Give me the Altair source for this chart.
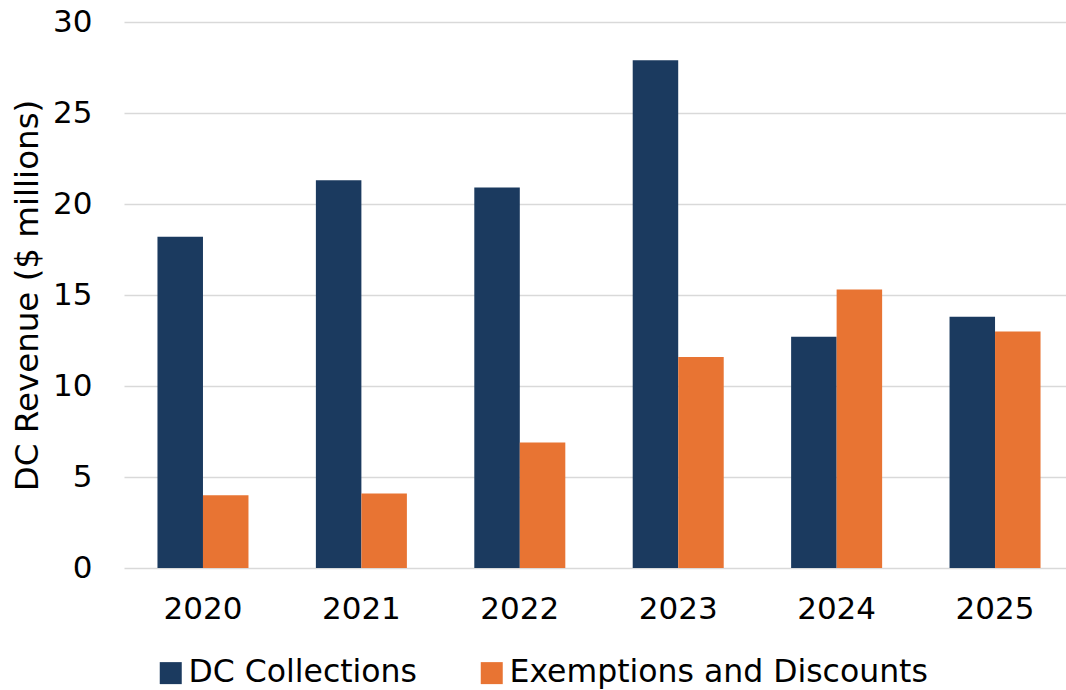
import altair as alt
import pandas as pd

years = ["2020", "2021", "2022", "2023", "2024", "2025"]
dc_collections = [18.2, 21.3, 20.9, 27.9, 12.7, 13.8]
exemptions = [4.0, 4.1, 6.9, 11.6, 15.3, 13.0]
series = ["DC Collections", "Exemptions and Discounts"]
colors = ["#1B3A5F", "#E87433"]

rows = []
for i, y in enumerate(years):
    rows.append({"Year": y, "Series": series[0], "Value": dc_collections[i]})
    rows.append({"Year": y, "Series": series[1], "Value": exemptions[i]})
df = pd.DataFrame(rows)

FONT = "DejaVu Sans"

chart = alt.Chart(df).mark_bar().encode(
    x=alt.X("Year:N", sort=years, title=None,
            scale=alt.Scale(paddingInner=0.4255, paddingOuter=0.186, align=0.568),
            axis=alt.Axis(labelAngle=0, labelFontSize=31, labelFont=FONT, labelColor="#000000",
                          domain=False, ticks=False, labelPadding=26, grid=False)),
    xOffset=alt.XOffset("Series:N", sort=series, scale=alt.Scale(paddingInner=0, paddingOuter=0)),
    y=alt.Y("Value:Q", title="DC Revenue ($ millions)",
            scale=alt.Scale(domain=[0, 30], nice=False),
            axis=alt.Axis(values=[0, 5, 10, 15, 20, 25, 30], labelFontSize=31, labelFont=FONT,
                          labelColor="#000000", titleFontSize=32.5, titleFont=FONT,
                          titleFontWeight="normal", titleColor="#000000",
                          domain=False, ticks=False, labelPadding=32, titlePadding=8,
                          gridColor="#D9D9D9", gridWidth=1.5)),
    color=alt.Color("Series:N", sort=series,
                    scale=alt.Scale(domain=series, range=colors),
                    legend=alt.Legend(title=None, orient="none", direction="horizontal",
                                      legendX=31, legendY=635, symbolType="square",
                                      symbolSize=484, symbolStrokeWidth=0, symbolOpacity=1,
                                      labelFontSize=31.5, labelFont=FONT, labelColor="#000000",
                                      labelOffset=2, columnPadding=59, padding=0,
                                      labelLimit=500)),
).properties(
    width=942, height=546,
    autosize=alt.AutoSizeParams(type="none"),
    padding={"left": 124, "top": 22, "right": 0, "bottom": 122},
).configure(background="white").configure_view(stroke=None)

chart.save("out.html", embed_options={"renderer": "svg", "actions": False})
